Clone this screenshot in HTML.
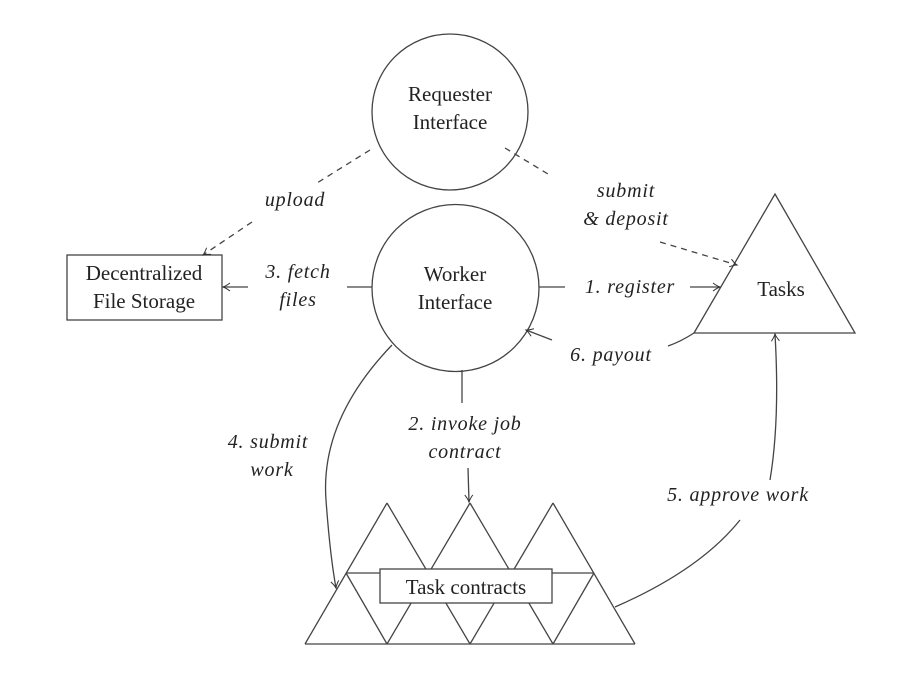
<!DOCTYPE html>
<html><head><style>
body{margin:0;background:#fff}
svg text{font-family:"Liberation Serif",serif;fill:#222}
.i{font-style:italic}
</style></head><body>
<svg width="906" height="669" viewBox="0 0 906 669" xmlns="http://www.w3.org/2000/svg">
<defs><marker id="a" markerWidth="10" markerHeight="10" refX="8" refY="5" orient="auto" markerUnits="userSpaceOnUse"><path d="M1,1 Q5,4 8,5 Q5,6 1,9" fill="none" stroke="#333" stroke-width="1"/></marker></defs>
<g stroke="#444" stroke-width="1.3" fill="none">
<circle cx="450" cy="112" r="78"/>
<circle cx="455.5" cy="288" r="83.5"/>
<rect x="67" y="255" width="155" height="65"/>
<polygon points="775,194 855,333 694,333"/>
<line x1="305" y1="644" x2="635" y2="644"/>
<line x1="346" y1="573" x2="594" y2="573"/>
<line x1="305" y1="644" x2="387" y2="503"/>
<line x1="387" y1="644" x2="470" y2="503"/>
<line x1="470" y1="644" x2="553" y2="503"/>
<line x1="553" y1="644" x2="594" y2="573"/>
<line x1="387" y1="503" x2="470" y2="644"/>
<line x1="470" y1="503" x2="553" y2="644"/>
<line x1="553" y1="503" x2="635" y2="644"/>
<line x1="346" y1="573" x2="387" y2="644"/>
<rect x="380" y="569" width="172" height="34" fill="#fff"/>
<path d="M370,150 L317,183" stroke-dasharray="6,5"/>
<path d="M252,222 L203,255" stroke-dasharray="6,5" marker-end="url(#a)"/>
<path d="M505,148 L548,174" stroke-dasharray="6,5"/>
<path d="M660,242 L737,265" stroke-dasharray="6,5" marker-end="url(#a)"/>
<line x1="347" y1="287" x2="372" y2="287"/>
<line x1="248" y1="287" x2="223" y2="287" marker-end="url(#a)"/>
<line x1="539" y1="287" x2="565" y2="287"/>
<line x1="690" y1="287" x2="720" y2="287" marker-end="url(#a)"/>
<path d="M694,333 Q680,342 668,346"/>
<line x1="552" y1="340" x2="526" y2="330" marker-end="url(#a)"/>
<line x1="462" y1="370" x2="462" y2="403"/>
<line x1="468" y1="468" x2="469" y2="502" marker-end="url(#a)"/>
<path d="M392,345 Q320,420 326,500 Q330,555 336,588" marker-end="url(#a)"/>
<path d="M615,607 Q700,570 740,520"/>
<path d="M770,480 Q780,420 775,334" marker-end="url(#a)"/>
</g>
<g font-size="21" text-anchor="middle">
<text x="450" y="101">Requester</text>
<text x="450" y="129">Interface</text>
<text x="455" y="281">Worker</text>
<text x="455" y="309">Interface</text>
<text x="144" y="280">Decentralized</text>
<text x="144" y="308">File Storage</text>
<text x="781" y="296">Tasks</text>
<text x="466" y="594">Task contracts</text>
</g>
<g font-size="20" text-anchor="middle" class="i" letter-spacing="0.8">
<text x="295" y="206">upload</text>
<text x="626" y="197">submit</text>
<text x="626" y="225">&amp; deposit</text>
<text x="298" y="278">3. fetch</text>
<text x="298" y="306">files</text>
<text x="630" y="293">1. register</text>
<text x="611" y="361">6. payout</text>
<text x="465" y="430">2. invoke job</text>
<text x="465" y="458">contract</text>
<text x="268" y="448">4. submit</text>
<text x="272" y="476">work</text>
<text x="738" y="501">5. approve work</text>
</g>
</svg>
</body></html>
